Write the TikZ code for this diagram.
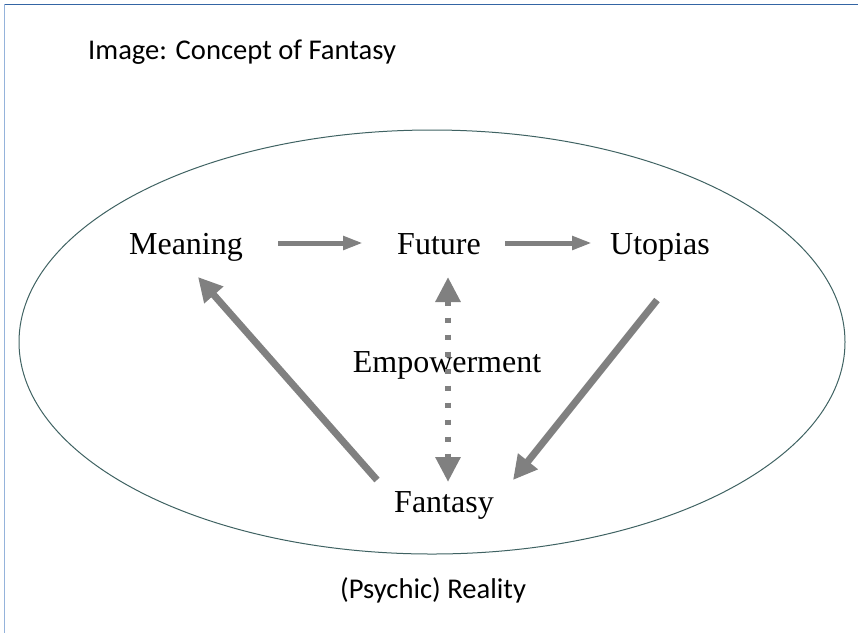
\documentclass[tikz,border=0pt]{standalone}
\usepackage{fontspec}
\setmainfont{Liberation Serif}
\newfontfamily\titlefont{Carlito}
\usetikzlibrary{arrows.meta}
\definecolor{arrowgray}{HTML}{808080}
\definecolor{ellcol}{HTML}{3F6262}
\definecolor{topblue}{HTML}{3465A4}
\definecolor{leftblue}{HTML}{95B3DB}
\tikzset{
  lbl/.style={font=\fontsize{32}{36}\selectfont, inner sep=0pt, anchor=base},
  ttl/.style={font=\titlefont\fontsize{28.6}{32}\selectfont, inner sep=0pt, anchor=base west},
  flow/.style={draw=arrowgray, line width=5pt, -{Triangle[length=20pt,width=13pt]}},
  bigflow/.style={draw=arrowgray, line width=7pt, -{Triangle[length=24pt,width=24pt]}},
  dotflow/.style={draw=arrowgray, line width=6pt, dash pattern=on 5pt off 12pt, {Triangle[length=25pt,width=24pt]}-{Triangle[length=25pt,width=24pt]}},
}
\begin{document}
\begin{tikzpicture}[x=1pt,y=-1pt]
\useasboundingbox (0,0) rectangle (858,633);
\draw[topblue, line width=1.5pt] (4,4.5) -- (858,4.5);
\draw[leftblue, line width=1.5pt] (4.5,4) -- (4.5,633);
\draw[ellcol, line width=1pt] (432,342) ellipse [x radius=413, y radius=212];
\node[ttl] (title) at (88,59) {Image: Concept of Fantasy};
\node[ttl] (reality) at (340,598) {(Psychic) Reality};
\node[lbl] (meaning) at (186,254) {Meaning};
\node[lbl] (future) at (439,254) {Future};
\node[lbl] (utopias) at (660,254) {Utopias};
\node[lbl] (empower) at (447,372) {Empowerment};
\node[lbl] (fantasy) at (444,512) {Fantasy};
\coordinate (m1) at (278,243);
\coordinate (f1) at (363,243);
\coordinate (f2) at (505,243);
\coordinate (u1) at (592,243);
\coordinate (fa1) at (377,480);
\coordinate (me1) at (198,277);
\coordinate (ut1) at (657,300);
\coordinate (fa2) at (513,480);
\coordinate (fu3) at (448,277);
\coordinate (fa3) at (448,482);
\draw[flow] (m1) -- (f1);
\draw[flow] (f2) -- (u1);
\draw[bigflow] (fa1) -- (me1);
\draw[bigflow] (ut1) -- (fa2);
\draw[dotflow] (fu3) -- (fa3);
\end{tikzpicture}
\end{document}
